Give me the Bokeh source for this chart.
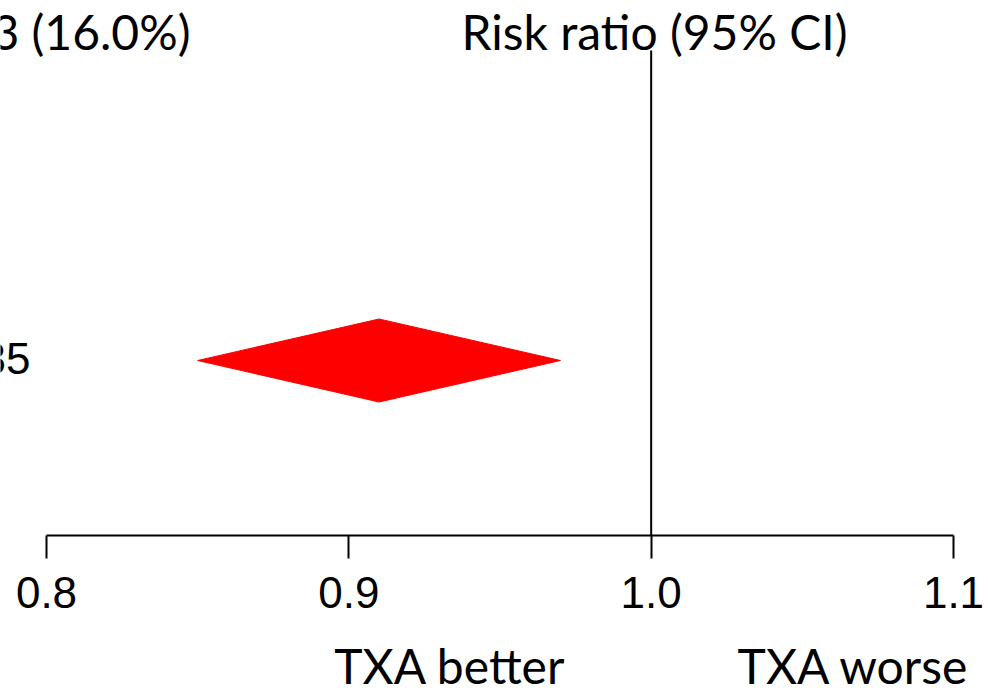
from bokeh.plotting import figure
from bokeh.models import LinearAxis, FixedTicker, PrintfTickFormatter, Range1d
from bokeh.core.properties import value
from bokeh.embed import file_html
from bokeh.resources import INLINE

# ---- data ----
ticks = [0.8, 0.9, 1.0, 1.1]
est = [0.91]
lower = [0.85]
upper = [0.97]
row_label = ["35"]
col_text = ["3 (16.0%)"]
header = "Risk ratio (95% CI)"
dir_labels = ["TXA better", "TXA worse"]
dir_pos = [0.9335, 1.067]

# ---- layout ----
W, H = 988, 696
frame_h = 535
px_per_unit = 907 / 0.3
x0 = 0.8 - 46 / px_per_unit
x1 = x0 + W / px_per_unit
BASE_FIX = 16  # svg alphabetic baseline correction

p = figure(width=W, height=H, x_range=Range1d(x0, x1), y_range=Range1d(0, frame_h),
           x_axis_type=None, y_axis_type=None, toolbar_location=None,
           output_backend="svg", min_border=0, min_border_bottom=H - frame_h)
p.outline_line_color = None
p.background_fill_color = "white"
p.border_fill_color = "white"

def px2x(cx):
    return x0 + cx / px_per_unit

def cy2y(cy):
    return frame_h - cy

# axis
ax = LinearAxis(ticker=FixedTicker(ticks=ticks), formatter=PrintfTickFormatter(format="%.1f"),
                bounds=(ticks[0], ticks[-1]))
ax.axis_line_width = 2
ax.axis_line_color = "black"
ax.major_tick_line_width = 2
ax.major_tick_line_color = "black"
ax.major_tick_out = 23
ax.major_tick_in = 0
ax.minor_tick_line_color = None
ax.major_label_text_font = "Liberation Sans"
ax.major_label_text_font_size = "44px"
ax.major_label_text_color = "black"
ax.major_label_standoff = 18
p.add_layout(ax, "below")

# direction labels as a second, line-less axis
ax2 = LinearAxis(ticker=FixedTicker(ticks=dir_pos),
                 major_label_overrides={k: v for k, v in zip(dir_pos, dir_labels)})
ax2.axis_line_color = None
ax2.major_tick_line_color = None
ax2.minor_tick_line_color = None
ax2.major_tick_out = 0
ax2.major_tick_in = 0
ax2.major_label_text_font = "Lato"
ax2.major_label_text_font_size = "48px"
ax2.major_label_text_color = "black"
ax2.major_label_standoff = 26
p.add_layout(ax2, "below")

# reference line at 1.0
p.segment(x0=[1.0], y0=[0], x1=[1.0], y1=[cy2y(50)], line_color="black", line_width=2)

# diamond
yc = cy2y(360)
hh = 41.5
for lo, e, hi in zip(lower, est, upper):
    p.patch(x=[lo, e, hi, e], y=[yc, yc + hh, yc, yc - hh], fill_color="#ff0000", line_color="#ff0000")

# texts
p.text(x=[px2x(30)], y=[cy2y(374 - BASE_FIX)], text=row_label, text_font=value("Liberation Sans"),
       text_font_size="44px", text_align="right", text_baseline="alphabetic", text_color="black")
p.text(x=[px2x(190)], y=[cy2y(47 - BASE_FIX)], text=col_text, text_font=value("Lato"),
       text_font_size="48px", text_align="right", text_baseline="alphabetic", text_color="black")
p.text(x=[px2x(654)], y=[cy2y(47 - BASE_FIX)], text=[header], text_font=value("Lato"),
       text_font_size="48px", text_align="center", text_baseline="alphabetic", text_color="black")

open("out.html", "w").write(file_html(p, INLINE))
